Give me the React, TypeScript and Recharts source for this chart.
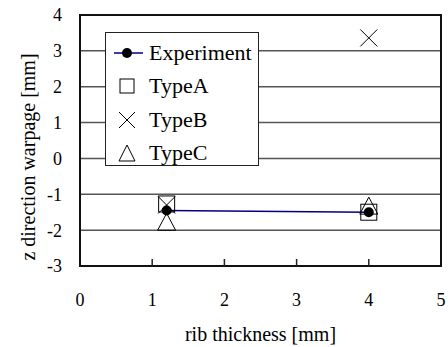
import { ScatterChart, Scatter, XAxis, YAxis, CartesianGrid, ReferenceArea, Legend, Label } from 'recharts';

const xTicks = [0, 1, 2, 3, 4, 5];
const yTicks = [-3, -2, -1, 0, 1, 2, 3, 4];

const ribThickness = [1.2, 4];
const experiment = [-1.45, -1.5];
const typeA = [-1.27, -1.5];
const typeB = [-1.3, 3.36];
const typeC = [-1.78, -1.33];

const toPoints = (ys: number[]) => ribThickness.map((x, i) => ({ x, y: ys[i] }));

const FONT = '"Liberation Serif", "Times New Roman", serif';

const Dot = (p: any) => <circle cx={p.cx} cy={p.cy} r={5} fill="#000" />;
const Square = (p: any) => (
  <rect x={p.cx - 8} y={p.cy - 8} width={16} height={16} fill="none" stroke="#000" strokeWidth={1} />
);
const Cross = (p: any) => (
  <path d={`M${p.cx - 8.5},${p.cy - 8.5}L${p.cx + 8.5},${p.cy + 8.5}M${p.cx + 8.5},${p.cy - 8.5}L${p.cx - 8.5},${p.cy + 8.5}`} stroke="#000" strokeWidth={1} fill="none" />
);
const Triangle = (p: any) => (
  <path d={`M${p.cx},${p.cy - 9}L${p.cx + 9},${p.cy + 8}L${p.cx - 9},${p.cy + 8}Z`} stroke="#000" strokeWidth={1} fill="none" />
);

const legendRows = [
  { name: 'Experiment', icon: 'line' },
  { name: 'TypeA', icon: 'square' },
  { name: 'TypeB', icon: 'cross' },
  { name: 'TypeC', icon: 'triangle' },
];

const LegendIcon = ({ icon }: { icon: string }) => (
  <svg width={34} height={20} style={{ display: 'block' }}>
    {icon === 'line' && (
      <g>
        <line x1={3} x2={32} y1={10} y2={10} stroke="#000080" strokeWidth={1.5} />
        <circle cx={16} cy={10} r={5} fill="#000" />
      </g>
    )}
    {icon === 'square' && <rect x={9} y={3} width={14} height={14} fill="none" stroke="#000" />}
    {icon === 'cross' && <path d="M8,2L24,18M24,2L8,18" stroke="#000" fill="none" />}
    {icon === 'triangle' && <path d="M16,2L24,18L8,18Z" stroke="#000" fill="none" />}
  </svg>
);

const renderLegend = () => (
  <div
    style={{
      background: '#fff',
      border: '1px solid #222',
      width: 154,
      height: 134,
      boxSizing: 'border-box',
      paddingTop: 3,
      fontFamily: FONT,
      fontSize: 22,
      color: '#000',
    }}
  >
    {legendRows.map((r) => (
      <div key={r.name} style={{ display: 'flex', alignItems: 'center', height: 33.5, paddingLeft: 5 }}>
        <LegendIcon icon={r.icon} />
        <span style={{ marginLeft: 4, lineHeight: '22px' }}>{r.name}</span>
      </div>
    ))}
  </div>
);

const XTick = (p: any) => {
  const { x, y, payload } = p;
  const inner = payload.value > 0 && payload.value < 5;
  return (
    <g>
      {inner && <line x1={x} x2={x} y1={y} y2={y - 7} stroke="#222" strokeWidth={1.5} />}
      <text x={x} y={y + 40} textAnchor="middle" fontFamily={FONT} fontSize={18} fill="#000">
        {payload.value}
      </text>
    </g>
  );
};

export default function App() {
  return (
    <div style={{ position: 'absolute', left: 0, top: 0, background: '#fff' }}>
      <ScatterChart width={448} height={347} margin={{ top: 15, right: 7, left: 0, bottom: 0 }}>
        <CartesianGrid vertical={false} stroke="#555" strokeWidth={1.5} />
        <XAxis
          type="number"
          dataKey="x"
          domain={[0, 5]}
          ticks={xTicks}
          height={81}
          axisLine={{ stroke: '#111', strokeWidth: 2 }}
          tickLine={false}
          tickSize={0}
          tickMargin={0}
          tick={<XTick />}
          interval={0}
        >
          <Label
            content={() => (
              <text x={260.5} y={341} textAnchor="middle" fontFamily={FONT} fontSize={20} fill="#000">
                rib thickness [mm]
              </text>
            )}
          />
        </XAxis>
        <YAxis
          type="number"
          dataKey="y"
          domain={[-3, 4]}
          ticks={yTicks}
          width={80}
          axisLine={{ stroke: '#111', strokeWidth: 2 }}
          tickLine={false}
          tickSize={0}
          tickMargin={18}
          interval={0}
          tick={{ fontFamily: FONT, fontSize: 18, fill: '#000' }}
        >
          <Label
            content={() => (
              <text
                x={27.5}
                y={157}
                transform="rotate(-90 27.5 157)"
                textAnchor="middle"
                dominantBaseline="central"
                fontFamily={FONT}
                fontSize={20}
                fill="#000"
              >
                z direction warpage [mm]
              </text>
            )}
          />
        </YAxis>
        <ReferenceArea x1={0} x2={5} y1={-3} y2={4} fill="none" stroke="#111" strokeWidth={2} fillOpacity={0} />
        <Legend
          layout="vertical"
          align="center"
          verticalAlign="middle"
          wrapperStyle={{ left: 105, top: 32, width: 154, height: 134 }}
          content={renderLegend}
        />
        <Scatter name="Experiment" data={toPoints(experiment)} line={{ stroke: '#000080', strokeWidth: 1.5 }} shape={<Dot />} isAnimationActive={false} />
        <Scatter name="TypeA" data={toPoints(typeA)} shape={<Square />} isAnimationActive={false} />
        <Scatter name="TypeB" data={toPoints(typeB)} shape={<Cross />} isAnimationActive={false} />
        <Scatter name="TypeC" data={toPoints(typeC)} shape={<Triangle />} isAnimationActive={false} />
      </ScatterChart>
    </div>
  );
}
